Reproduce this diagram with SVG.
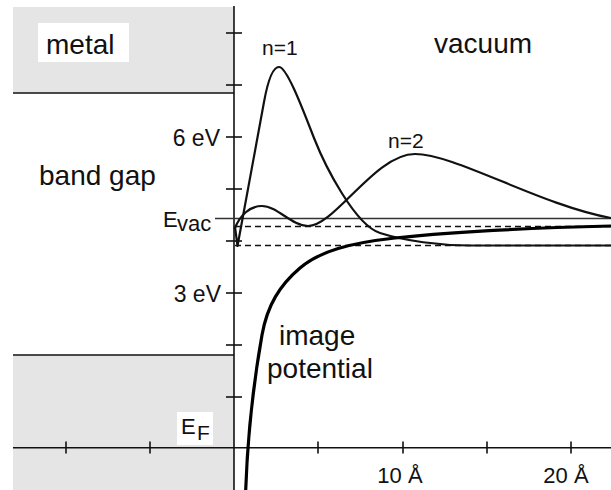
<svg xmlns="http://www.w3.org/2000/svg" width="611" height="490" viewBox="0 0 611 490">
<style>
text{font-family:"Liberation Sans",Arial,sans-serif;fill:#111}
.ax{stroke:#111;stroke-width:1.6;fill:none}
.tk{stroke:#111;stroke-width:1.6}
.lv{stroke:#333;stroke-width:1.4;fill:none}
.ds{stroke:#111;stroke-width:1.5;stroke-dasharray:6 4;fill:none}
.wf{stroke:#111;stroke-width:2.2;fill:none;stroke-linejoin:round}
.ip{stroke:#000;stroke-width:3.2;fill:none}
.band{fill:#e5e5e5}
</style>
<rect width="611" height="490" fill="#fff"/>
<g id="metal-top">
<rect class="band" x="13" y="7" width="221" height="86"/>
<line class="ax" x1="13" y1="93" x2="234" y2="93"/>
<rect x="38" y="23" width="91" height="39" fill="#fff"/>
<text x="46" y="54" font-size="28">metal</text>
</g>
<g id="metal-bottom">
<rect class="band" x="13" y="355" width="221" height="135"/>
<line class="ax" x1="13" y1="355" x2="234" y2="355"/>
<rect x="177" y="412" width="36" height="33" fill="#fff"/>
<text x="181" y="434" font-size="22">E</text>
<text x="197" y="440" font-size="21">F</text>
</g>
<g id="axes">
<line class="ax" x1="234" y1="6" x2="234" y2="490"/>
<line class="ax" x1="13" y1="447.7" x2="611" y2="447.7"/>
<g class="tk">
<line x1="226" y1="33" x2="242" y2="33"/>
<line x1="226" y1="85" x2="242" y2="85"/>
<line x1="226" y1="137" x2="242" y2="137"/>
<line x1="226" y1="189" x2="242" y2="189"/>
<line x1="226" y1="241" x2="242" y2="241"/>
<line x1="226" y1="293" x2="242" y2="293"/>
<line x1="226" y1="345" x2="242" y2="345"/>
<line x1="226" y1="397" x2="242" y2="397"/>
<line x1="66" y1="441.5" x2="66" y2="453.5"/>
<line x1="150" y1="441.5" x2="150" y2="453.5"/>
<line x1="318" y1="441.5" x2="318" y2="453.5"/>
<line x1="403" y1="441.5" x2="403" y2="453.5"/>
<line x1="487" y1="441.5" x2="487" y2="453.5"/>
<line x1="571" y1="441.5" x2="571" y2="453.5"/>
</g>
<text x="220" y="146" font-size="23" text-anchor="end">6 eV</text>
<text x="221" y="302" font-size="23" text-anchor="end">3 eV</text>
<text x="400" y="483" font-size="22" text-anchor="middle">10 Å</text>
<text x="566" y="483" font-size="22" text-anchor="middle">20 Å</text>
</g>
<g id="band-gap"><text x="39" y="185" font-size="28">band gap</text></g>
<g id="vacuum"><text x="434" y="53" font-size="28">vacuum</text></g>
<g id="evac">
<line class="lv" x1="215" y1="218.5" x2="611" y2="218.5"/>
<text x="163" y="226.5" font-size="22">E</text>
<text x="177" y="231" font-size="22">vac</text>
</g>
<g id="levels">
<line class="ds" x1="235" y1="226.5" x2="611" y2="226.5"/>
<line class="ds" x1="235" y1="245.5" x2="611" y2="245.5"/>
</g>
<g id="n1">
<path class="wf" d="M235,227 L237.5,246 L264,102 C268,80 273,67 279,67 C287,67 303,110 314,138 C325,166 355,225 380,233 C405,241 440,245.5 470,245.5 L611,245.5"/>
<text x="262" y="55" font-size="21">n=1</text>
</g>
<g id="n2">
<path class="wf" d="M234.5,229 C240,215 250,206 262,206 C277,206 292,226 308,226 C335,226 375,154 415,154 C455,154 540,205 611,218"/>
<text x="388" y="148" font-size="21">n=2</text>
</g>
<g id="image-potential">
<path class="ip" d="M245.7,490 C247.5,440 254,380 262,335 C267.3,305 280,285 300,268 C320,251 350,243 395,238 C450,232 530,228 611,226"/>
<text x="279" y="345" font-size="28">image</text>
<text x="267" y="378" font-size="28">potential</text>
</g>
</svg>
